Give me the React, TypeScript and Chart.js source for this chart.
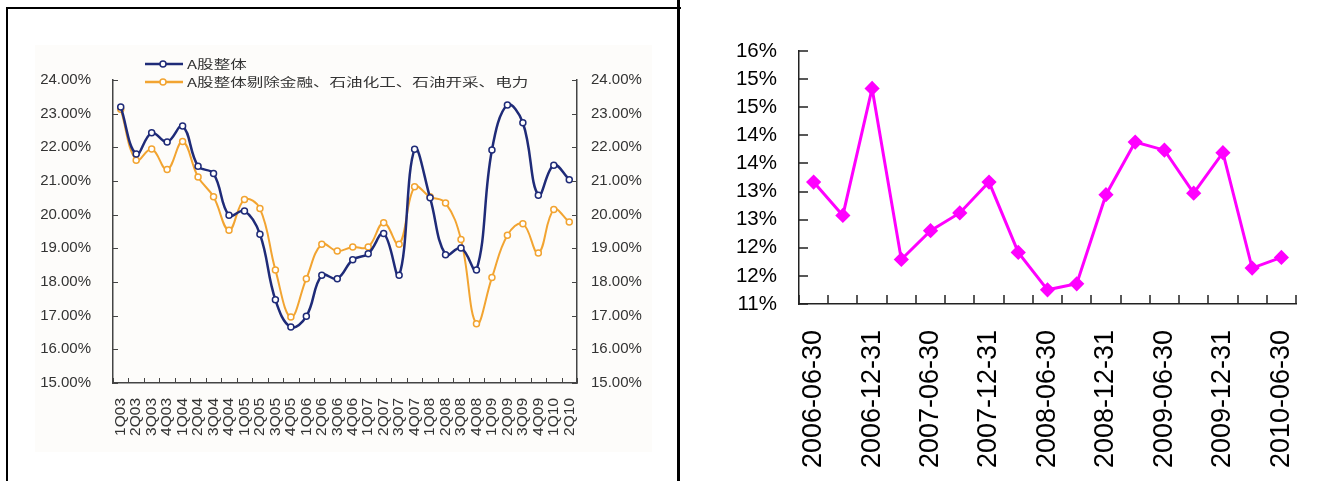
import React, { useEffect, useRef } from 'react';
import { Chart, registerables } from 'chart.js';

Chart.register(...registerables);

// ---------- Left chart data ----------
const quarters = [
  '1Q03', '2Q03', '3Q03', '4Q03', '1Q04', '2Q04', '3Q04', '4Q04',
  '1Q05', '2Q05', '3Q05', '4Q05', '1Q06', '2Q06', '3Q06', '4Q06',
  '1Q07', '2Q07', '3Q07', '4Q07', '1Q08', '2Q08', '3Q08', '4Q08',
  '1Q09', '2Q09', '3Q09', '4Q09', '1Q10', '2Q10',
];
const legendLabels = ['A股整体', 'A股整体剔除金融、石油化工、石油开采、电力'];
const aShareAll = [
  23.2, 21.8, 22.43, 22.16, 22.63, 21.44, 21.22, 19.98,
  20.11, 19.42, 17.47, 16.66, 16.98, 18.2, 18.1, 18.66,
  18.84, 19.44, 18.2, 21.94, 20.5, 18.81, 19.01, 18.36,
  21.92, 23.26, 22.73, 20.58, 21.47, 21.04,
];
const aShareExcl = [
  23.13, 21.62, 21.95, 21.34, 22.17, 21.12, 20.53, 19.54,
  20.45, 20.18, 18.36, 16.96, 18.1, 19.12, 18.92, 19.04,
  19.04, 19.76, 19.12, 20.83, 20.53, 20.35, 19.26, 16.76,
  18.13, 19.39, 19.73, 18.86, 20.15, 19.78,
];
const leftTickLabels = [
  '15.00%', '16.00%', '17.00%', '18.00%', '19.00%',
  '20.00%', '21.00%', '22.00%', '23.00%', '24.00%',
];

// ---------- Right chart data ----------
const reportDates = [
  '2006-06-30', '2006-09-30', '2006-12-31', '2007-03-31', '2007-06-30',
  '2007-09-30', '2007-12-31', '2008-03-31', '2008-06-30', '2008-09-30',
  '2008-12-31', '2009-03-31', '2009-06-30', '2009-09-30', '2009-12-31',
  '2010-03-31', '2010-06-30',
];
const ratioValues = [
  13.41, 12.75, 15.26, 11.88, 12.45, 12.8, 13.41, 12.02, 11.28,
  11.4, 13.16, 14.2, 14.04, 13.19, 13.99, 11.71, 11.92,
];
const rightTickLabels = ['11%', '12%', '12%', '13%', '13%', '14%', '14%', '15%', '15%', '16%'];

const NAVY = '#1f2b78';
const ORANGE = '#f2a431';
const MAGENTA = '#ff00ff';
const FONT = '"Liberation Sans", Arial, sans-serif';

function LeftChart() {
  const ref = useRef<HTMLCanvasElement>(null);
  useEffect(() => {
    const canvas = ref.current!;
    const innerPlugin = {
      id: 'leftInner',
      afterDraw(chart: any) {
        const { ctx, chartArea: a, scales } = chart;
        ctx.save();
        ctx.strokeStyle = '#444';
        ctx.lineWidth = 1;
        ctx.beginPath();
        const y = scales.y;
        y.ticks.forEach((_: any, i: number) => {
          const p = Math.round(y.getPixelForTick(i)) + 0.5;
          ctx.moveTo(a.left, p);
          ctx.lineTo(a.left + 5, p);
        });
        const y1 = scales.y1;
        y1.ticks.forEach((_: any, i: number) => {
          const p = Math.round(y1.getPixelForTick(i)) + 0.5;
          ctx.moveTo(a.right - 5, p);
          ctx.lineTo(a.right, p);
        });
        const x = scales.x;
        for (let i = 0; i <= quarters.length; i++) {
          const p = Math.round(x.getPixelForValue(i - 0.5)) + 0.5;
          ctx.moveTo(p, a.bottom);
          ctx.lineTo(p, a.bottom - 5);
        }
        ctx.stroke();

        // legend
        const rows = [
          { y: 55, color: NAVY, text: legendLabels[0] },
          { y: 73, color: ORANGE, text: legendLabels[1] },
        ];
        rows.forEach((r) => {
          ctx.strokeStyle = r.color;
          ctx.lineWidth = 2.5;
          ctx.beginPath();
          ctx.moveTo(137, r.y);
          ctx.lineTo(175, r.y);
          ctx.stroke();
          ctx.beginPath();
          ctx.arc(155, r.y, 3, 0, Math.PI * 2);
          ctx.fillStyle = '#fff';
          ctx.fill();
          ctx.lineWidth = 1.5;
          ctx.stroke();
          ctx.save();
          ctx.translate(179, r.y);
          ctx.scale(1.38, 1);
          ctx.fillStyle = '#333';
          ctx.font = '12px "Noto Sans CJK SC", sans-serif';
          ctx.textBaseline = 'middle';
          ctx.fillText(r.text, 0, 0);
          ctx.restore();
        });
        ctx.restore();
      },
    };
    const yCommon = {
      min: 15,
      max: 24,
      grid: { display: false, drawTicks: false },
      border: { display: true, color: '#444', width: 1.5 },
      ticks: {
        stepSize: 1,
        color: '#333',
        font: { family: FONT, size: 15 },
        callback: (_v: any, i: number) => leftTickLabels[i],
      },
    };
    const chart = new Chart(canvas, {
      type: 'line',
      data: {
        labels: quarters,
        datasets: [
          {
            label: legendLabels[0],
            data: aShareAll,
            borderColor: NAVY,
            borderWidth: 2.5,
            pointRadius: 3,
            pointBorderWidth: 1.5,
            pointBackgroundColor: '#fff',
            pointBorderColor: NAVY,
            tension: 0.4,
          },
          {
            label: legendLabels[1],
            data: aShareExcl,
            borderColor: ORANGE,
            borderWidth: 2,
            pointRadius: 3,
            pointBorderWidth: 1.5,
            pointBackgroundColor: '#fff',
            pointBorderColor: ORANGE,
            tension: 0.4,
          },
        ],
      },
      options: {
        animation: false,
        responsive: false,
        layout: { padding: { top: 71, left: 0, right: 0, bottom: 0 } },
        plugins: { legend: { display: false }, tooltip: { enabled: false } },
        scales: {
          x: {
            offset: true,
            grid: { display: false, drawTicks: false, offset: true },
            border: { display: true, color: '#444', width: 1.5 },
            ticks: {
              autoSkip: false,
              minRotation: 90,
              maxRotation: 90,
              padding: 15,
              color: '#333',
              font: { family: FONT, size: 15.5 },
            },
            afterFit: (s: any) => { s.height = 98; },
          },
          y: {
            ...yCommon,
            position: 'left',
            ticks: { ...yCommon.ticks, padding: 22 },
            afterFit: (s: any) => { s.width = 105; },
          },
          y1: {
            ...yCommon,
            position: 'right',
            ticks: { ...yCommon.ticks, padding: 14 },
            afterFit: (s: any) => { s.width = 100; },
          },
        },
      } as any,
      plugins: [innerPlugin],
    });
    return () => chart.destroy();
  }, []);
  return <canvas ref={ref} width={669} height={472} style={{ position: 'absolute', left: 8, top: 9 }} />;
}

function RightChart() {
  const ref = useRef<HTMLCanvasElement>(null);
  useEffect(() => {
    const canvas = ref.current!;
    const innerPlugin = {
      id: 'rightInner',
      afterDraw(chart: any) {
        const { ctx, chartArea: a, scales } = chart;
        ctx.save();
        ctx.strokeStyle = '#222';
        ctx.lineWidth = 1.5;
        ctx.beginPath();
        const y = scales.y;
        y.ticks.forEach((_: any, i: number) => {
          const p = Math.round(y.getPixelForTick(i));
          ctx.moveTo(a.left, p);
          ctx.lineTo(a.left + 9, p);
        });
        const x = scales.x;
        for (let i = 0; i <= reportDates.length; i++) {
          const p = Math.round(x.getPixelForValue(i - 0.5));
          ctx.moveTo(p, a.bottom);
          ctx.lineTo(p, a.bottom - 9);
        }
        ctx.stroke();
        ctx.restore();
      },
    };
    const chart = new Chart(canvas, {
      type: 'line',
      data: {
        labels: reportDates,
        datasets: [
          {
            label: 'ratio',
            data: ratioValues,
            borderColor: MAGENTA,
            borderWidth: 3,
            pointStyle: 'rectRot',
            pointRadius: 5.5,
            pointBackgroundColor: MAGENTA,
            pointBorderColor: MAGENTA,
            tension: 0,
          },
        ],
      },
      options: {
        animation: false,
        responsive: false,
        layout: { padding: { top: 51, left: 0, right: 47, bottom: 0 } },
        plugins: { legend: { display: false }, tooltip: { enabled: false } },
        scales: {
          x: {
            offset: true,
            grid: { display: false, drawTicks: false, offset: true },
            border: { display: true, color: '#222', width: 1.5 },
            ticks: {
              autoSkip: false,
              minRotation: 90,
              maxRotation: 90,
              padding: 26,
              color: '#000',
              font: { family: FONT, size: 27 },
              callback: (_v: any, i: number) => (i % 2 === 0 ? reportDates[i] : ''),
            },
            afterFit: (s: any) => { s.height = 177; },
          },
          y: {
            min: 11,
            max: 16,
            grid: { display: false, drawTicks: false },
            border: { display: true, color: '#222', width: 1.5 },
            afterBuildTicks: (s: any) => {
              s.ticks = rightTickLabels.map((_, i) => ({ value: 11 + (i * 5) / (rightTickLabels.length - 1) }));
            },
            ticks: {
              padding: 22,
              color: '#000',
              font: { family: FONT, size: 20.5 },
              callback: (_v: any, i: number) => rightTickLabels[i],
            },
            afterFit: (s: any) => { s.width = 118; },
          },
        },
      } as any,
      plugins: [innerPlugin],
    });
    return () => chart.destroy();
  }, []);
  return <canvas ref={ref} width={662} height={481} style={{ position: 'absolute', left: 681, top: 0 }} />;
}

export default function App() {
  return (
    <div style={{ position: 'absolute', left: 0, top: 0, width: 1343, height: 481, background: '#fff', overflow: 'hidden' }}>
      <div style={{ position: 'absolute', left: 35, top: 45, width: 617, height: 407, background: '#fdfcfa' }} />
      <div
        style={{
          position: 'absolute', left: 6, top: 7, width: 675, height: 490,
          borderTop: '2px solid #000', borderLeft: '2px solid #000', boxSizing: 'border-box',
        }}
      />
      <div style={{ position: 'absolute', left: 677, top: 0, width: 3, height: 481, background: '#000' }} />
      <LeftChart />
      <RightChart />
    </div>
  );
}
